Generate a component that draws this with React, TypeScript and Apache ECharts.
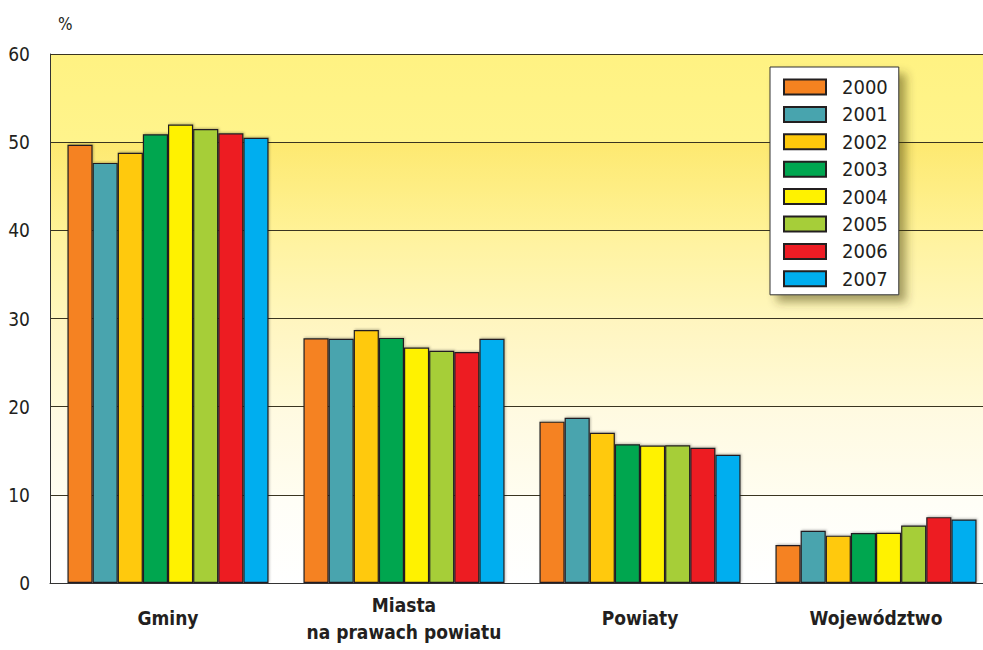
import React, { useEffect, useRef } from "react";
import * as echarts from "echarts";

const categories = ["Gminy", "Miasta\nna prawach powiatu", "Powiaty", "Województwo"];
const years = ["2000", "2001", "2002", "2003", "2004", "2005", "2006", "2007"];
const colors = ["#f58220", "#48a4ae", "#ffc90b", "#00a650", "#fff200", "#a6ce39", "#ed1c24", "#00aeef"];
const values2000 = [49.7, 27.75, 18.3, 4.3];
const values2001 = [47.65, 27.7, 18.75, 5.93];
const values2002 = [48.8, 28.7, 17.03, 5.37];
const values2003 = [50.9, 27.8, 15.74, 5.66];
const values2004 = [52.0, 26.7, 15.6, 5.7];
const values2005 = [51.5, 26.35, 15.63, 6.53];
const values2006 = [51.0, 26.2, 15.33, 7.47];
const values2007 = [50.5, 27.7, 14.54, 7.21];
const seriesValues = [values2000, values2001, values2002, values2003, values2004, values2005, values2006, values2007];
const yTicks = { min: 0, max: 60, interval: 10 };

const FONT = "'Liberation Sans Narrow', 'DejaVu Sans Condensed', 'Arial Narrow', sans-serif";

const band = (top: string, bottom: string) => ({
  type: "linear",
  x: 0,
  y: 0,
  x2: 0,
  y2: 1,
  colorStops: [
    { offset: 0, color: top },
    { offset: 1, color: bottom },
  ],
});

export default function App() {
  const ref = useRef<HTMLDivElement>(null);
  useEffect(() => {
    if (!ref.current) return;
    const chart = echarts.init(ref.current, null, { renderer: "svg" });
    chart.setOption({
      animation: false,
      backgroundColor: "#ffffff",
      grid: { left: 50, top: 54, width: 944, bottom: 67, containLabel: false },
      graphic: [
        {
          type: "text",
          left: 58,
          top: 15,
          style: { text: "%", fontSize: 17, fontFamily: FONT, fill: "#231f20" },
        },
      ],
      legend: {
        orient: "vertical",
        left: 770,
        top: 67,
        data: years,
        icon: "rect",
        itemWidth: 42,
        itemHeight: 15,
        itemGap: 7.4,
        padding: [10, 11, 6, 13],
        backgroundColor: "#ffffff",
        borderColor: "#333333",
        borderWidth: 1,
        borderRadius: 0,
        shadowColor: "rgba(60,50,0,0.45)",
        shadowBlur: 10,
        shadowOffsetX: 7,
        shadowOffsetY: 7,
        textStyle: {
          fontFamily: FONT,
          fontSize: 20,
          color: "#231f20",
          padding: [0, 0, 0, 11],
        },
      },
      xAxis: {
        type: "category",
        data: categories,
        axisLine: { show: true, lineStyle: { color: "#333333", width: 1 } },
        axisTick: { show: false },
        axisLabel: {
          interval: 0,
          margin: 35,
          verticalAlign: "middle",
          fontFamily: FONT,
          fontWeight: "bold",
          fontSize: 19,
          lineHeight: 27,
          color: "#231f20",
        },
      },
      yAxis: {
        type: "value",
        min: yTicks.min,
        max: yTicks.max,
        interval: yTicks.interval,
        axisLine: { show: true, lineStyle: { color: "#333333", width: 1 } },
        axisTick: { show: false },
        axisLabel: {
          margin: 20,
          fontFamily: FONT,
          fontSize: 19,
          color: "#231f20",
        },
        splitLine: { show: true, lineStyle: { color: "#3a3520", width: 1 } },
        splitArea: {
          show: true,
          areaStyle: {
            color: [
              band("#fffef6", "#ffffff"),
              band("#fffae0", "#fffdf0"),
              band("#fff5bf", "#fffad8"),
              band("#fff29c", "#fff7bd"),
              band("#fde970", "#fff296"),
              band("#fff282", "#fff48c"),
            ],
          },
        },
      },
      series: years.map((y, i) => ({
        name: y,
        type: "bar",
        data: seriesValues[i],
        barGap: "0%",
        barCategoryGap: "14.8%",
        itemStyle: {
          color: colors[i],
          borderColor: "#231f20",
          borderWidth: 1.2,
          shadowColor: "rgba(0,0,0,0.25)",
          shadowBlur: 2,
          shadowOffsetX: 1,
          shadowOffsetY: -1,
        },
      })),
    });
    return () => chart.dispose();
  }, []);
  return (
    <div style={{ position: "absolute", left: 0, top: 0, width: 983, height: 650, overflow: "hidden" }}>
      <div ref={ref} style={{ width: 1000, height: 650 }} />
    </div>
  );
}
